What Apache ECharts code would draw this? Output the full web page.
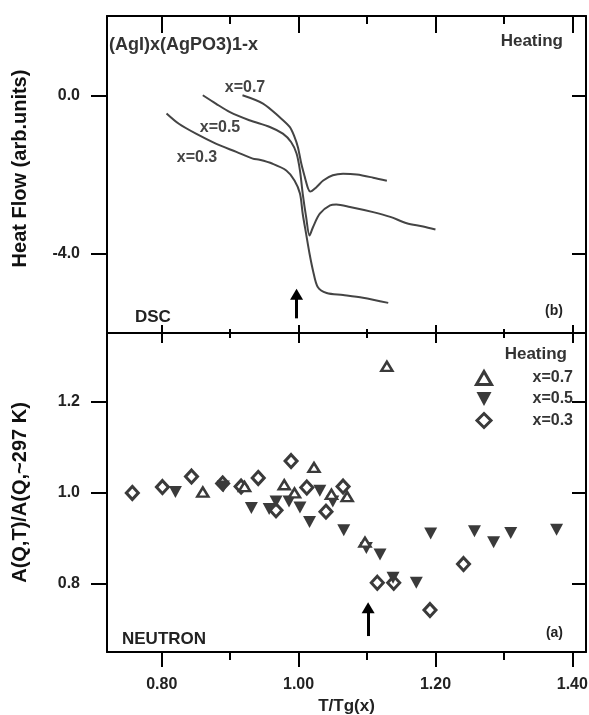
<!DOCTYPE html>
<html>
<head>
<meta charset="utf-8">
<script src="https://cdn.jsdelivr.net/npm/echarts/dist/echarts.min.js"></script>
<style>html,body{margin:0;padding:0;background:#fff;}#c{width:589px;height:715px;}</style>
</head>
<body>
<div id="c"></div>
<script>
// ---- DSC curves (top panel) ----
const dsc07X = [0.918,0.948,0.972,0.987,0.994,0.999,1.004,1.009,1.014,1.017,1.026,1.036,1.050,1.065,1.085,1.109,1.129];
const dsc07Y = [0.00,-0.21,-0.55,-0.80,-1.05,-1.31,-1.73,-2.06,-2.36,-2.43,-2.32,-2.15,-2.02,-1.98,-2.00,-2.08,-2.16];
const dsc05X = [0.860,0.879,0.899,0.928,0.958,0.977,0.989,0.997,1.002,1.006,1.011,1.016,1.021,1.031,1.046,1.055,1.075,1.109,1.134,1.158,1.182,1.200];
const dsc05Y = [0.00,-0.21,-0.42,-0.63,-0.80,-0.97,-1.18,-1.47,-1.90,-2.48,-3.07,-3.54,-3.33,-2.99,-2.78,-2.76,-2.82,-2.95,-3.07,-3.23,-3.31,-3.39];
const dsc03X = [0.807,0.825,0.850,0.879,0.909,0.933,0.943,0.962,0.982,0.994,1.002,1.006,1.011,1.016,1.021,1.028,1.041,1.065,1.094,1.131];
const dsc03Y = [-0.46,-0.72,-0.97,-1.22,-1.43,-1.60,-1.63,-1.73,-1.90,-2.15,-2.48,-2.99,-3.50,-4.00,-4.42,-4.84,-4.99,-5.04,-5.11,-5.24];

// ---- Neutron data (bottom panel) ----
const n07X = [0.860,0.921,0.979,0.994,1.0225,1.048,1.071,1.097,1.129];
const n07Y = [1.001,1.013,1.017,0.999,1.055,0.996,0.991,0.891,1.277];
const n05X = [0.820,0.890,0.931,0.957,0.967,0.986,1.002,1.016,1.031,1.050,1.066,1.099,1.119,1.138,1.172,1.193,1.257,1.285,1.310,1.377];
const n05Y = [1.001,1.013,0.966,0.964,0.980,0.980,0.967,0.935,1.004,0.980,0.917,0.878,0.864,0.813,0.802,0.910,0.915,0.891,0.911,0.918];
const n03X = [0.757,0.801,0.8435,0.889,0.916,0.941,0.967,0.989,1.012,1.040,1.065,1.115,1.139,1.192,1.241];
const n03Y = [0.999,1.012,1.035,1.020,1.013,1.032,0.961,1.069,1.011,0.958,1.013,0.802,0.802,0.742,0.843];

// ---- Axis ticks / ranges ----
const xMajor = [0.8, 1.0, 1.2, 1.4];
const xMinor = [0.9, 1.1, 1.3];
const yTopTicks = [-4, 0];
const yBotTicks = [0.8, 1.0, 1.2];
const xRange = [0.72, 1.42];
const yTopRange = [-6, 2];
const yBotRange = [0.65, 1.35];

// ---- Arrows (data coords: [x, yStart, yEnd]) ----
const arrowTop = [0.997, -5.63, -5.02];
const arrowBot = [1.1016, 0.685, 0.747];

const zip = (a, b) => a.map((v, i) => [v, b[i]]);
const FONT = 'Liberation Sans';
const ink = '#3a3a3a';

function xAx(grid, pos, ticks, len, inside, showLine, extra) {
  return Object.assign({
    type: 'value', gridIndex: grid, position: pos, min: xRange[0], max: xRange[1],
    axisLine: { show: showLine, onZero: false, lineStyle: { color: '#000', width: 2 } },
    axisTick: { show: true, inside: inside, length: len, customValues: ticks, lineStyle: { color: '#000', width: 2 } },
    axisLabel: { show: false },
    splitLine: { show: false }
  }, extra || {});
}
function yAx(grid, pos, range, ticks, len, inside, extra) {
  return Object.assign({
    type: 'value', gridIndex: grid, position: pos, min: range[0], max: range[1],
    axisLine: { show: true, onZero: false, lineStyle: { color: '#000', width: 2 } },
    axisTick: { show: true, inside: inside, length: len, customValues: ticks, lineStyle: { color: '#000', width: 2 } },
    axisLabel: { show: false },
    splitLine: { show: false }
  }, extra || {});
}

const chart = echarts.init(document.getElementById('c'), null, { renderer: 'canvas' });

const lineBase = { type: 'line', xAxisIndex: 0, yAxisIndex: 0, showSymbol: false, smooth: 0.3,
  lineStyle: { color: '#444', width: 2 }, itemStyle: { color: '#444' }, silent: true, z: 3 };

const arrowML = (a) => ({
  silent: true, symbol: ['none', 'triangle'], symbolSize: [13, 11],
  lineStyle: { color: '#000', width: 3, type: 'solid' }, label: { show: false },
  itemStyle: { color: '#000' }, animation: false,
  data: [[{ coord: [a[0], a[1]] }, { coord: [a[0], a[2]] }]]
});

const tickLabel = { fontFamily: FONT, fontWeight: 'bold', fontSize: 16, color: '#222' };

const option = {
  animation: false,
  backgroundColor: '#fff',
  grid: [
    { left: 107, top: 16, right: 3, height: 317, outerBoundsMode: 'none', containLabel: false },
    { left: 107, top: 333, right: 3, height: 319, outerBoundsMode: 'none', containLabel: false }
  ],
  xAxis: [
    xAx(0, 'bottom', xMajor, 8, true, true),
    xAx(0, 'bottom', xMinor, 4, true, false),
    xAx(0, 'top', xMajor, 17, true, true),
    xAx(0, 'top', xMinor, 8, true, false),
    xAx(1, 'bottom', xMajor, 15, false, true, {
      axisLabel: Object.assign({ show: true, customValues: xMajor, margin: 25, formatter: v => Number(v).toFixed(2) }, tickLabel),
      name: 'T/Tg(x)', nameLocation: 'middle', nameGap: 46, nameMoveOverlap: false,
      nameTextStyle: { fontFamily: FONT, fontWeight: 'bold', fontSize: 17, color: '#222' }
    }),
    xAx(1, 'bottom', xMinor, 8, false, false),
    xAx(1, 'top', xMajor, 10, true, true),
    xAx(1, 'top', xMinor, 5, true, false)
  ],
  yAxis: [
    yAx(0, 'left', yTopRange, yTopTicks, 16, false, {
      axisLabel: Object.assign({ show: true, customValues: yTopTicks, margin: 27, formatter: v => Number(v).toFixed(1) }, tickLabel),
      name: 'Heat Flow (arb.units)', nameLocation: 'middle', nameGap: 77, nameMoveOverlap: false,
      nameTextStyle: { fontFamily: FONT, fontWeight: 'bold', fontSize: 20, color: '#111', padding: [0, 0, 0, 12] }
    }),
    yAx(0, 'right', yTopRange, yTopTicks, 14, true),
    yAx(1, 'left', yBotRange, yBotTicks, 16, false, {
      axisLabel: Object.assign({ show: true, customValues: yBotTicks, margin: 27, formatter: v => Number(v).toFixed(1) }, tickLabel),
      name: 'A(Q,T)/A(Q,~297 K)', nameLocation: 'middle', nameGap: 77, nameMoveOverlap: false,
      nameTextStyle: { fontFamily: FONT, fontWeight: 'bold', fontSize: 20, color: '#111' }
    }),
    yAx(1, 'right', yBotRange, yBotTicks, 14, true)
  ],
  legend: {
    orient: 'vertical', left: 475, top: 370, padding: 0, itemWidth: 15, itemHeight: 14, itemGap: 5,
    selectedMode: false,
    data: [
      { name: 'x=0.7', icon: 'path://M7,0L14,12L0,12Z', itemStyle: { color: '#fff', borderColor: ink, borderWidth: 3 } },
      { name: 'x=0.5', icon: 'path://M0,0L14,0L7,13Z', itemStyle: { color: ink, borderWidth: 0 } },
      { name: 'x=0.3', icon: 'path://M7,0L14,7L7,14L0,7Z', itemStyle: { color: '#fff', borderColor: ink, borderWidth: 3 } }
    ],
    textStyle: { fontFamily: FONT, fontWeight: 'bold', fontSize: 16, color: '#333', padding: [0, 0, 0, 36] }
  },
  series: [
    Object.assign({}, lineBase, { name: 'DSC x=0.7', data: zip(dsc07X, dsc07Y) }),
    Object.assign({}, lineBase, { name: 'DSC x=0.5', data: zip(dsc05X, dsc05Y) }),
    Object.assign({}, lineBase, { name: 'DSC x=0.3', data: zip(dsc03X, dsc03Y), markLine: arrowML(arrowTop) }),
    { type: 'scatter', name: 'x=0.3', xAxisIndex: 4, yAxisIndex: 2, data: zip(n03X, n03Y),
      symbol: 'diamond', symbolSize: [12, 13],
      itemStyle: { color: '#fff', borderColor: ink, borderWidth: 3, opacity: 1 }, z: 2,
      markLine: arrowML(arrowBot) },
    { type: 'scatter', name: 'x=0.5', xAxisIndex: 4, yAxisIndex: 2, data: zip(n05X, n05Y),
      symbol: 'triangle', symbolRotate: 180, symbolSize: [13, 12],
      itemStyle: { color: ink, opacity: 1 }, z: 3 },
    { type: 'scatter', name: 'x=0.7', xAxisIndex: 4, yAxisIndex: 2, data: zip(n07X, n07Y),
      symbol: 'triangle', symbolSize: [11, 9],
      itemStyle: { color: '#fff', borderColor: ink, borderWidth: 2.5, opacity: 1 }, z: 4 }
  ],
  graphic: [
    { type: 'text', x: 109, y: 45, style: { text: '(AgI)x(AgPO3)1-x', font: 'bold 18px "Liberation Sans"', fill: '#333', align: 'left', verticalAlign: 'middle' } },
    { type: 'text', x: 563, y: 41, style: { text: 'Heating', font: 'bold 17px "Liberation Sans"', fill: '#333', align: 'right', verticalAlign: 'middle' } },
    { type: 'text', x: 245, y: 88, style: { text: 'x=0.7', font: 'bold 16px "Liberation Sans"', fill: '#444', align: 'center', verticalAlign: 'middle' } },
    { type: 'text', x: 220, y: 128, style: { text: 'x=0.5', font: 'bold 16px "Liberation Sans"', fill: '#444', align: 'center', verticalAlign: 'middle' } },
    { type: 'text', x: 197, y: 158, style: { text: 'x=0.3', font: 'bold 16px "Liberation Sans"', fill: '#444', align: 'center', verticalAlign: 'middle' } },
    { type: 'text', x: 135, y: 317, style: { text: 'DSC', font: 'bold 17px "Liberation Sans"', fill: '#222', align: 'left', verticalAlign: 'middle' } },
    { type: 'text', x: 563, y: 311, style: { text: '(b)', font: 'bold 14px "Liberation Sans"', fill: '#222', align: 'right', verticalAlign: 'middle' } },
    { type: 'text', x: 122, y: 639, style: { text: 'NEUTRON', font: 'bold 17px "Liberation Sans"', fill: '#222', align: 'left', verticalAlign: 'middle' } },
    { type: 'text', x: 563, y: 633, style: { text: '(a)', font: 'bold 14px "Liberation Sans"', fill: '#222', align: 'right', verticalAlign: 'middle' } },
    { type: 'text', x: 567, y: 354, style: { text: 'Heating', font: 'bold 17px "Liberation Sans"', fill: '#333', align: 'right', verticalAlign: 'middle' } }
  ]
};
chart.setOption(option);
</script>
</body>
</html>
